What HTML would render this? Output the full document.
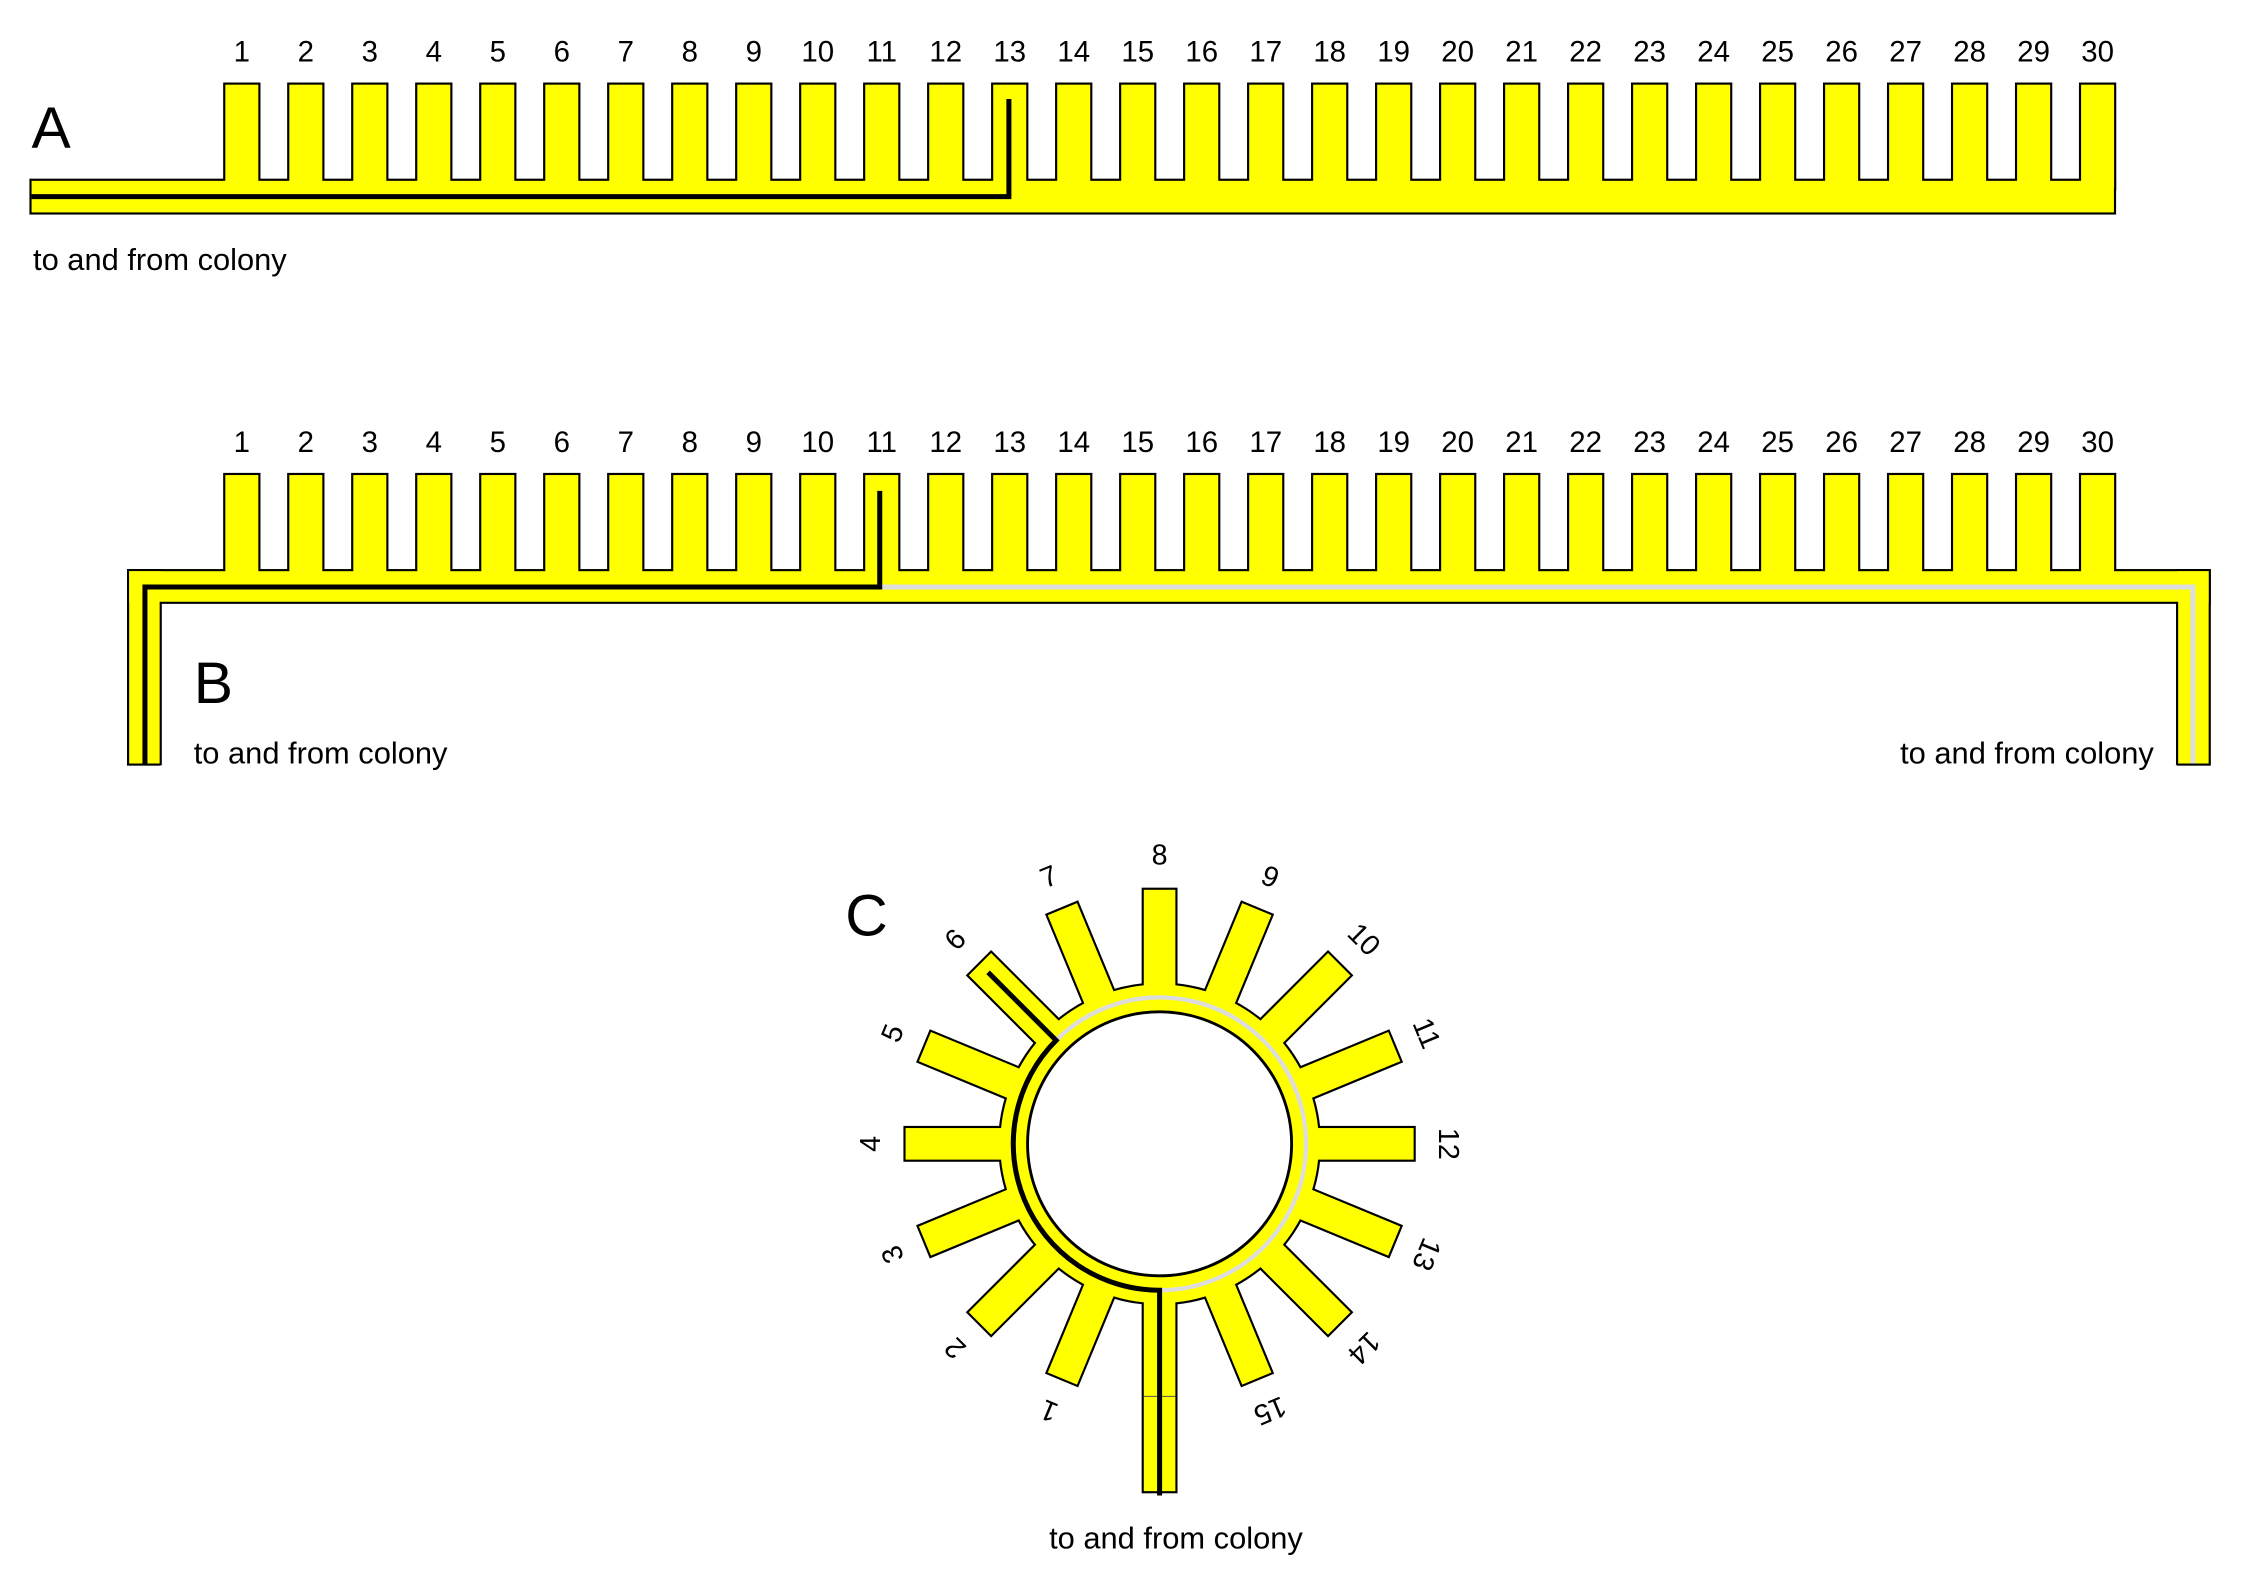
<!DOCTYPE html>
<html><head><meta charset="utf-8"><style>
html,body{margin:0;padding:0;background:#fff}
svg{display:block}
text{font-family:"Liberation Sans",Arial,sans-serif;fill:#000}
</style></head><body>
<svg width="2251" height="1583" viewBox="0 0 1568.5 1103" preserveAspectRatio="none" xmlns="http://www.w3.org/2000/svg">
<g id="all"></g>
<script>
(function(){
var NS="http://www.w3.org/2000/svg",g=document.getElementById("all");
function el(t,a,p){var e=document.createElementNS(NS,t);for(var k in a)e.setAttribute(k,a[k]);(p||g).appendChild(e);return e;}
function txt(s,x,y,sz,extra){var a={x:x,y:y,"font-size":sz};if(extra)for(var k in extra)a[k]=extra[k];var e=el("text",a);e.textContent=s;return e;}
var P=44.59,W=23;
function comb(top,bot,chBot,extraRects){
  var shapes=[];
  for(var i=0;i<30;i++){var x=157+i*P;shapes.push({x:x,y:top,w:W,h:bot-top+5});}
  extraRects.forEach(function(r){shapes.push(r);});
  shapes.forEach(function(s){el("rect",{x:s.x,y:s.y,width:s.w,height:s.h,fill:"#000",stroke:"#000","stroke-width":3});});
  shapes.forEach(function(s){el("rect",{x:s.x,y:s.y,width:s.w,height:s.h,fill:"#ffff00"});});
  for(var i=0;i<30;i++){txt(String(i+1),157+i*P+W/2,top-16,20.5,{"text-anchor":"middle"});}
}
// A
comb(59,126,148,[{x:22,y:126,w:1451,h:22}]);
el("polyline",{points:"22,137 703,137 703,69",fill:"none",stroke:"#000","stroke-width":3.5});
txt("A",22,103,41);
txt("to and from colony",23,188,21.5);
// B
comb(331,398,420,[{x:90,y:398,w:1449,h:22},{x:90,y:398,w:22,h:134},{x:1517,y:398,w:22,h:134}]);
el("rect",{x:112,y:420,width:1405,height:113.5,fill:"#fff"});
el("polyline",{points:"112,533 112,420 1517,420 1517,533",fill:"none",stroke:"#000","stroke-width":1.5});
el("polyline",{points:"613,409 1528,409 1528,532",fill:"none",stroke:"#ddd","stroke-width":3.5});
el("polyline",{points:"101,532 101,409 613,409 613,342",fill:"none",stroke:"#000","stroke-width":3.5});
txt("B",135,490,41);
txt("to and from colony",135,532,21.5);
txt("to and from colony",1324,532,21.5);
// C
var cx=808,cy=797;
var tg=el("g",{});
function teeth(fill,stroke){
  for(var k=1;k<=15;k++){var th=(k-8)*22.5;
    el("rect",{x:cx-11,y:cy-177,width:22,height:80,fill:fill,stroke:stroke,"stroke-width":stroke=="none"?0:3,transform:"rotate("+th+" "+cx+" "+cy+")"},tg);}
  el("rect",{x:cx-11,y:cy+95,width:22,height:147,fill:fill,stroke:stroke,"stroke-width":stroke=="none"?0:3},tg);
  el("circle",{cx:cx,cy:cy,r:111,fill:fill,stroke:stroke,"stroke-width":stroke=="none"?0:3},tg);
}
teeth("#000","#000");teeth("#ffff00","none");
el("circle",{cx:cx,cy:cy,r:92,fill:"#fff",stroke:"#000","stroke-width":2});
el("line",{x1:797,y1:973,x2:819,y2:973,stroke:"#555","stroke-width":0.7});
el("path",{d:"M808,899 A102,102 0 1 0 735.9,724.9",fill:"none",stroke:"#ddd","stroke-width":3});
el("path",{d:"M808,1042 L808,899 A102,102 0 0 1 735.9,724.9 L688.5,677.5",fill:"none",stroke:"#000","stroke-width":3.5});
for(var k=1;k<=15;k++){var th=(k-8)*22.5,rad=th*Math.PI/180;
  var x=cx+201*Math.sin(rad),y=cy-201*Math.cos(rad);
  txt(String(k),x,y,20,{"text-anchor":"middle","dominant-baseline":"central",transform:"rotate("+th+" "+x+" "+y+")"});}
txt("C",589,652,41);
txt("to and from colony",731,1079,21.5);
})();
</script>
</svg>
</body></html>
